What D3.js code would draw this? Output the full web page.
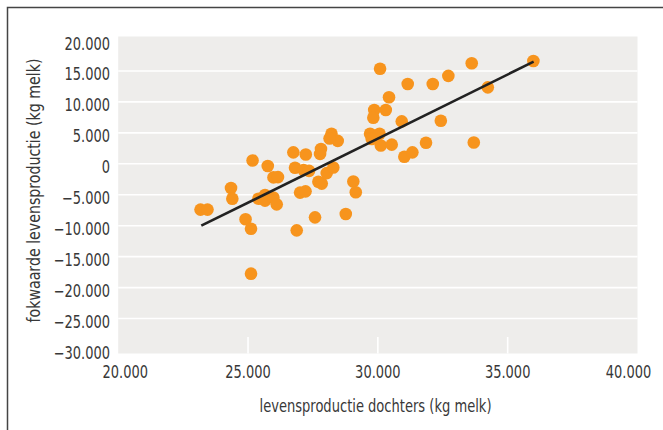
<html>
	<head>
		<meta charset="UTF-8">
		<title>fokwaarde levensproductie</title>
		<script src="https://d3js.org/d3.v7.min.js"></script>
		<style>
        html,body{margin:0;padding:0;background:#fff;}
        text{font-family:"DejaVu Sans Condensed","Liberation Sans Narrow",sans-serif;fill:#383838;font-size:17px;}
        .grid{stroke:#fff;stroke-width:1.6;}
        .dot{fill:#f7941d;}
        .trend{stroke:#222;stroke-width:2.6;fill:none;}
        </style>
	</head>
	<body>
		<div id="container"></div>
		<script>
            // levensproductie dochters (kg melk)
            const dochters = [23170, 23440, 24345, 24395, 25175, 24905, 25115, 25115, 25760, 25980,
                26155, 25400, 25655, 25655, 25975, 26105, 26745, 27225, 26810, 27140,
                27350, 27005, 27215, 27580, 26875, 27775, 27810, 27710, 27840, 28030,
                28285, 28215, 28455, 28140, 29055, 29150, 28765, 30085, 31150, 32115,
                32715, 33615, 35990, 34235, 30430, 29860, 30305, 29825, 30920, 32425,
                29700, 30065, 29765, 30115, 30535, 31020, 31330, 31855, 33695]
            // fokwaarde levensproductie (kg melk)
            const fokwaarde = [-7400, -7400, -3900, -5650, 530, -8950, -10500, -17750, -350, -2200,
                -2150, -5650, -5050, -5950, -5450, -6550, 1850, 1500, -650, -1000,
                -1150, -4650, -4450, -8650, -10750, 1600, 2400, -2900, -3200, -1500,
                -600, 4850, 3700, 4100, -2850, -4600, -8100, 15350, 12900, 12900,
                14200, 16250, 16600, 12350, 10750, 8700, 8700, 7450, 6850, 6950,
                4850, 4850, 4000, 2950, 3100, 1150, 1850, 3400, 3450]
            // trendlijn (begin en eind)
            const trendX = [23200, 36000]
            const trendY = [-10000, 16500]
            const xTicks = [20000, 25000, 30000, 35000, 40000]
            const yTicks = [20000, 15000, 10000, 5000, 0, -5000, -10000, -15000, -20000, -25000, -30000]

            const W = 663, H = 430
            const sx = 0.85   // smallere letters
            const svg = d3.select("#container").append("svg")
                .attr("width", W).attr("height", H)

            // kader
            svg.append("path")
                .attr("d", "M7.5,430V7.5H663")
                .attr("fill", "none").attr("stroke", "#444").attr("stroke-width", 1.5)

            const xScale = d3.scaleLinear().domain([20000, 40000]).range([118.2, 637.5])
            const yScale = d3.scaleLinear().domain([-30000, 20000]).range([349.5, 40])

            const fmt = d => d === 0 ? "0" : (d < 0 ? "\u2212" : "") + d3.format(",")(Math.abs(d)).replace(/,/g, ".")

            // achtergrond
            svg.append("rect")
                .attr("x", 118.2).attr("y", 36.5)
                .attr("width", 637.5 - 118.2).attr("height", 353.5 - 36.5)
                .attr("fill", "#eeedeb")

            svg.selectAll(".hgrid")
                .data(yTicks.filter(d => d > -30000 && d < 20000))
                .enter().append("line")
                .attr("class", "grid")
                .attr("x1", 118.2).attr("x2", 637.5)
                .attr("y1", d => yScale(d)).attr("y2", d => yScale(d))

            svg.selectAll(".vgrid")
                .data(xTicks.slice(1, -1))
                .enter().append("line")
                .attr("class", "grid")
                .attr("x1", d => xScale(d)).attr("x2", d => xScale(d))
                .attr("y1", 337).attr("y2", 353.5)

            // y labels
            svg.selectAll(".ylab")
                .data(yTicks)
                .enter().append("text")
                .attr("transform", d => "translate(110," + (yScale(d) + 9.5) + ") scale(" + sx + ",1)")
                .attr("text-anchor", "end")
                .text(fmt)

            // x labels
            svg.selectAll(".xlab")
                .data(xTicks)
                .enter().append("text")
                .attr("transform", (d, i) => "translate(" + (xScale(d) + (i === 0 ? 7 : i === xTicks.length - 1 ? -9 : 0)) + ",378) scale(" + sx + ",1)")
                .attr("text-anchor", "middle")
                .text(fmt)

            svg.append("text")
                .attr("x", 375.5).attr("y", 411.5)
                .attr("text-anchor", "middle")
                .attr("textLength", 232).attr("lengthAdjust", "spacingAndGlyphs")
                .text("levensproductie dochters (kg melk)")

            svg.append("text")
                .attr("transform", "translate(39.5,190.5) rotate(-90)")
                .attr("text-anchor", "middle")
                .attr("textLength", 264).attr("lengthAdjust", "spacingAndGlyphs")
                .text("fokwaarde levensproductie (kg melk)")

            // punten
            svg.selectAll(".dot")
                .data(dochters.map((d, i) => [d, fokwaarde[i]]))
                .enter().append("circle")
                .attr("class", "dot")
                .attr("cx", d => xScale(d[0]))
                .attr("cy", d => yScale(d[1]))
                .attr("r", 6.3)

            // trendlijn
            svg.append("path")
                .datum(trendX.map((d, i) => [d, trendY[i]]))
                .attr("class", "trend")
                .attr("d", d3.line().x(d => xScale(d[0])).y(d => yScale(d[1])))
        </script>
</body>
</html>
